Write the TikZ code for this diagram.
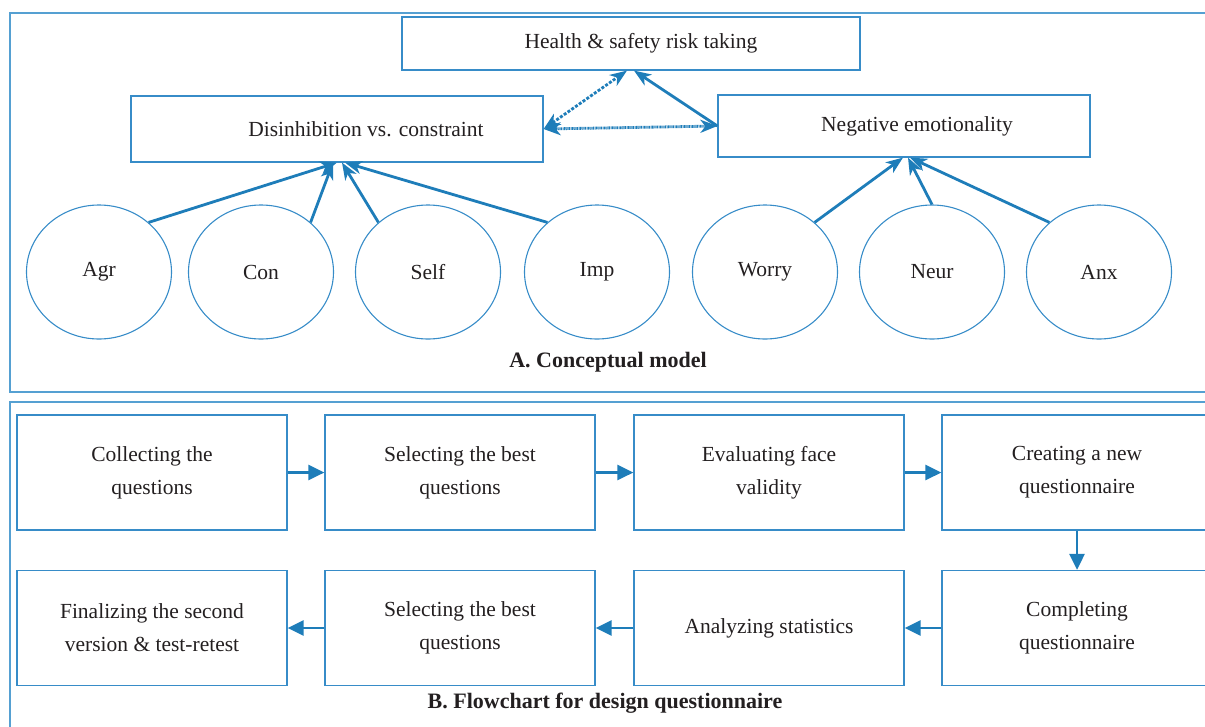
\documentclass[tikz,border=0pt]{standalone}
\usepackage{fontspec}
\setmainfont{Liberation Serif}
\usetikzlibrary{arrows.meta,shapes.geometric}

\definecolor{framecol}{RGB}{85,160,210}
\definecolor{boxcol}{RGB}{55,140,200}
\definecolor{arrcol}{RGB}{30,125,185}
\definecolor{txtcol}{RGB}{35,31,32}

\tikzset{
  box/.style={draw=boxcol, line width=1.2pt, rectangle, text=txtcol, align=center, inner sep=0pt},
  trait/.style={draw=boxcol, line width=1.1pt, ellipse, minimum width=145pt, minimum height=134pt, inner sep=0pt, text=txtcol},
  link/.style={arrcol, line width=2.8pt, -{Stealth[length=17pt,width=13pt,inset=5pt]}},
  linkboth/.style={arrcol, line width=2.8pt, {Stealth[length=17pt,width=13pt,inset=5pt]}-{Stealth[length=17pt,width=13pt,inset=5pt]}},
  flow/.style={arrcol, line width=2.8pt, -{Triangle[length=16pt,width=15pt]}},
  frame/.style={draw=framecol, line width=1.3pt}
}

\begin{document}
\begin{tikzpicture}[x=1pt, y=-1pt, font=\fontsize{21.5}{33}\selectfont]
	\useasboundingbox (0,0) rectangle (1205,726);
	\draw[frame] (10,13) rectangle (1220,392);
	\draw[frame] (10,402) rectangle (1220,740);

	% A. conceptual model
	\node[box, minimum width=458pt, minimum height=53pt] (hst) at (631,43.5) {\hspace*{20pt}Health \& safety risk taking};
	\node[box, minimum width=412pt, minimum height=66pt] (dis) at (337,129) {\hspace*{58pt}Disinhibition vs. constraint};
	\node[box, minimum width=372pt, minimum height=62pt] (neg) at (904,126) {\hspace*{26pt}Negative emotionality};

	\foreach \name/\lbl/\x in {agr/Agr/99, con/Con/261, slf/Self/428, imp/Imp/597, wor/Worry/765, neu/Neur/932, anx/Anx/1099}{
	  \node[trait] (\name) at (\x,272) {\lbl};
	}

	\foreach \name/\ang/\dx in {agr/45/0, con/45/-4, slf/135/5, imp/135/8}{
	  \draw[link] (\name.\ang) -- ([xshift=\dx pt]dis.south);
	}
	\foreach \name/\ang/\dx in {wor/45/-1, neu/90/4, anx/135/6}{
	  \draw[link] (\name.\ang) -- ([xshift=\dx pt]neg.south);
	}

	\draw[linkboth, dash pattern=on 3pt off 1.6pt] (dis.east) -- ([xshift=-4pt]hst.south);
	\draw[linkboth, dash pattern=on 1pt off 0.6pt] (dis.east) -- (neg.west);
	\draw[link] (neg.west) -- ([xshift=3pt]hst.south);

	\node[font=\fontsize{22}{26}\selectfont\bfseries, text=txtcol] (capa) at (608,362) {A. Conceptual model};

	% B. flowchart
	\foreach \name/\x/\y/\txt in {f1/152/472.5/{Collecting the\\questions}, f2/460/472.5/{Selecting the best\\questions},
	    f3/769/472.5/{Evaluating face\\validity}, f4/1077/472.5/{Creating a new\\questionnaire},
	    f5/1077/628/{Completing\\questionnaire}, f6/769/628/{Analyzing statistics},
	    f7/460/628/{Selecting the best\\questions}, f8/152/628/{Finalizing the second\\version \& test-retest}}{
	  \node[box, minimum width=270pt, minimum height=115pt] (\name) at (\x,\y) {\txt};
	}
	\foreach \a/\b in {f1/f2, f2/f3, f3/f4, f4/f5, f5/f6, f6/f7, f7/f8}{
	  \draw[flow] (\a) -- (\b);
	}

	\node[font=\fontsize{22}{26}\selectfont\bfseries, text=txtcol] (capb) at (605,703) {B. Flowchart for design questionnaire};
\end{tikzpicture}
\end{document}
